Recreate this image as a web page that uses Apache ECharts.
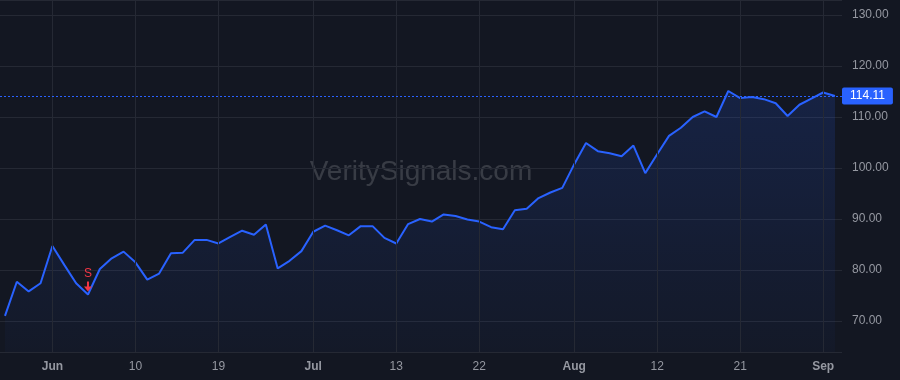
<!DOCTYPE html>
<html>
<head>
<meta charset="utf-8">
<style>
html,body{margin:0;padding:0;background:#131722;}
#c{width:900px;height:380px;}
</style>
<script src="https://cdn.jsdelivr.net/npm/echarts@6/dist/echarts.min.js"></script>
</head>
<body>
<div id="c"></div>
<script>
// price series (one value per session)
const prices = [
  71.0, 77.7, 75.8, 77.4, 84.7, 81.0, 77.4, 75.2, 80.2, 82.3,
  83.6, 81.5, 78.1, 79.3, 83.3, 83.4, 85.9, 85.9, 85.2, 86.5,
  87.7, 86.9, 88.9, 80.3, 81.8, 83.7, 87.5, 88.7, 87.8, 86.8,
  88.6, 88.6, 86.3, 85.2, 89.0, 90.0, 89.5, 90.9, 90.6, 89.9,
  89.5, 88.4, 88.0, 91.7, 92.0, 94.1, 95.2, 96.1, 100.7, 104.9,
  103.3, 102.9, 102.3, 104.4, 99.0, 102.7, 106.3, 107.9, 110.0, 111.1,
  110.0, 115.1, 113.7, 113.9, 113.5, 112.7, 110.2, 112.4, 113.6, 114.8,
  114.11
];
// x-axis tick positions (session index) and their labels
const tickIdx = [4, 11, 18, 26, 33, 40, 48, 55, 62, 69];
const tickLabels = ['Jun', '10', '19', 'Jul', '13', '22', 'Aug', '12', '21', 'Sep'];
const monthLabels = ['Jun', 'Jul', 'Aug', 'Sep'];
// signal marker
const signalIdx = 7;
const signalText = 'S';
const lastPrice = 114.11;
const watermark = 'VeritySignals.com';

const chart = echarts.init(document.getElementById('c'), null, {renderer: 'canvas'});
const gridColor = '#252934';
const labelColor = '#9598a1';
const font = '"Liberation Sans", Arial, Helvetica, sans-serif';

const option = {
  animation: false,
  backgroundColor: '#131722',
  grid: {left: 0, right: 58, top: 0, bottom: 28},
  xAxis: {
    type: 'value',
    min: -0.42,
    max: prices.length - 1 + 0.59,
    axisLine: {show: false},
    axisTick: {show: false},
    splitLine: {show: false},
    axisLabel: {
      customValues: tickIdx,
      margin: 9,
      color: labelColor,
      fontSize: 12,
      fontFamily: font,
      formatter: function (v) {
        const k = tickIdx.indexOf(Math.round(v));
        if (k < 0) return '';
        const t = tickLabels[k];
        return monthLabels.indexOf(t) >= 0 ? '{b|' + t + '}' : t;
      },
      rich: {b: {fontWeight: 'bold', color: labelColor, fontSize: 12, fontFamily: font}}
    }
  },
  yAxis: {
    type: 'value',
    position: 'right',
    min: 63.92,
    max: 132.94,
    splitNumber: 7,
    axisLine: {show: false},
    axisTick: {show: false},
    splitLine: {show: true, lineStyle: {color: gridColor, width: 1}},
    axisLabel: {
      showMinLabel: false,
      showMaxLabel: false,
      margin: 10,
      color: labelColor,
      fontSize: 12,
      fontFamily: font,
      formatter: function (v) { return v.toFixed(2); }
    }
  },
  graphic: [{
    type: 'text',
    x: 421,
    y: 172,
    z: 0,
    style: {
      text: watermark,
      font: '28px "Liberation Sans", Arial, sans-serif',
      fill: 'rgba(255,255,255,0.16)',
      align: 'center',
      verticalAlign: 'middle'
    }
  }],
  series: [{
    type: 'line',
    data: prices.map((v, i) => [i, v]),
    symbol: 'none',
    lineStyle: {color: '#2962ff', width: 2},
    areaStyle: {
      origin: 'start',
      color: new echarts.graphic.LinearGradient(0, 0, 0, 1, [
        {offset: 0, color: 'rgba(41,98,255,0.22)'},
        {offset: 1, color: 'rgba(41,98,255,0.04)'}
      ])
    },
    markLine: {
      silent: true,
      symbol: ['none', 'none'],
      animation: false,
      data: tickIdx.map(i => ({
        xAxis: i,
        lineStyle: {color: gridColor, type: 'solid', width: 1},
        label: {show: false}
      })).concat([{
        yAxis: lastPrice,
        lineStyle: {color: '#2962ff', type: [2, 2], width: 1},
        label: {
          show: true,
          position: 'end',
          distance: 0,
          formatter: lastPrice.toFixed(2),
          color: '#ffffff',
          backgroundColor: '#2962ff',
          borderRadius: 2,
          padding: [2, 8],
          lineHeight: 13,
          fontSize: 12,
          fontFamily: font
        }
      }])
    },
    markPoint: {
      silent: true,
      animation: false,
      data: [{
        coord: [signalIdx, prices[signalIdx]],
        symbol: 'path://M3,0 L5,0 L5,5 L8,5 L4,10 L0,5 L3,5 Z',
        symbolSize: [8, 10],
        symbolOffset: [0, -8],
        itemStyle: {color: '#f23645'},
        label: {
          show: true,
          position: 'top',
          distance: 2,
          formatter: signalText,
          color: '#f23645',
          fontSize: 12,
          fontFamily: font
        }
      }]
    }
  }]
};
chart.setOption(option);
</script>
</body>
</html>
